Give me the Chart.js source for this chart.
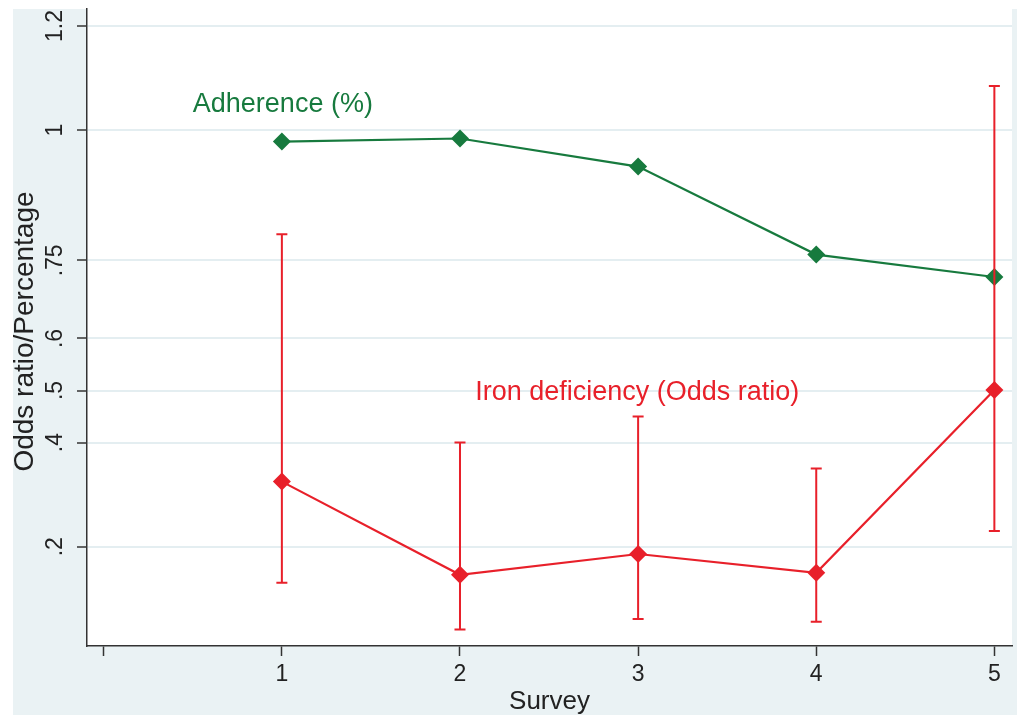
<!DOCTYPE html>
<html>
<head>
<meta charset="utf-8">
<script src="https://cdn.jsdelivr.net/npm/chart.js@4"></script>
<style>
  html, body { margin: 0; padding: 0; background: #fff; }
  #chart { display: block; }
</style>
</head>
<body>
<canvas id="chart" width="1017" height="717"></canvas>
<script>
// Data
const surveys = [1, 2, 3, 4, 5];
const adherence = [0.978, 0.984, 0.930, 0.761, 0.718];
const ironOR = [0.325, 0.146, 0.186, 0.150, 0.501];
const ironLower = [0.131, 0.041, 0.061, 0.056, 0.230];
const ironUpper = [0.800, 0.400, 0.450, 0.350, 1.085];
const yTicks = [0.2, 0.4, 0.5, 0.6, 0.75, 1, 1.2];
const yTickLabels = ['.2', '.4', '.5', '.6', '.75', '1', '1.2'];
const xTicks = [0, 1, 2, 3, 4, 5];
const xTickLabels = ['', '1', '2', '3', '4', '5'];
const seriesNames = ['Adherence (%)', 'Iron deficiency (Odds ratio)'];
const yTitle = 'Odds ratio/Percentage';

const FONT = '"Liberation Sans", Arial, Helvetica, sans-serif';
const GREEN = '#177a3e';
const RED = '#e8202a';
const INK = '#222';

// where the two series labels sit, in data units
const labelAt = [{ x: 0.5, y: 1.05 }, { x: 2.085, y: 0.497 }];

const stataLook = {
  id: 'stataLook',
  beforeDraw(chart) {
    const { ctx, chartArea: a } = chart;
    ctx.save();
    ctx.fillStyle = '#eaf2f4';
    ctx.fillRect(13, 9, 1004, 706);
    ctx.fillStyle = '#fff';
    ctx.fillRect(a.left, a.top, a.right - a.left, a.bottom - a.top);
    ctx.restore();
  },
  afterDatasetsDraw(chart) {
    // confidence intervals for the odds ratios
    const { ctx, scales: { x, y } } = chart;
    ctx.save();
    ctx.strokeStyle = RED;
    ctx.lineWidth = 2;
    surveys.forEach((s, i) => {
      const px = x.getPixelForValue(s);
      const lo = y.getPixelForValue(ironLower[i]);
      const hi = y.getPixelForValue(ironUpper[i]);
      ctx.beginPath();
      ctx.moveTo(px, lo); ctx.lineTo(px, hi);
      ctx.moveTo(px - 5.5, lo); ctx.lineTo(px + 5.5, lo);
      ctx.moveTo(px - 5.5, hi); ctx.lineTo(px + 5.5, hi);
      ctx.stroke();
    });
    ctx.restore();
  },
  afterDraw(chart) {
    const { ctx, chartArea: a, scales: { x, y } } = chart;
    ctx.save();
    // rotated y tick labels
    ctx.fillStyle = INK;
    ctx.font = `23px ${FONT}`;
    ctx.textAlign = 'center';
    ctx.textBaseline = 'alphabetic';
    yTicks.forEach((v, i) => {
      ctx.save();
      ctx.translate(62, y.getPixelForValue(v));
      ctx.rotate(-Math.PI / 2);
      ctx.fillText(yTickLabels[i], 0, 0);
      ctx.restore();
    });
    // y axis title
    ctx.save();
    ctx.font = `28px ${FONT}`;
    ctx.translate(33, (a.top + a.bottom) / 2 + 4);
    ctx.rotate(-Math.PI / 2);
    ctx.fillText(yTitle, 0, 0);
    ctx.restore();
    // series labels
    ctx.font = `27px ${FONT}`;
    ctx.textAlign = 'left';
    ctx.textBaseline = 'middle';
    [GREEN, RED].forEach((c, i) => {
      ctx.fillStyle = c;
      ctx.fillText(seriesNames[i], x.getPixelForValue(labelAt[i].x), y.getPixelForValue(labelAt[i].y));
    });
    ctx.restore();
  }
};

new Chart(document.getElementById('chart'), {
  type: 'line',
  data: {
    datasets: [
      {
        label: seriesNames[0],
        data: surveys.map((s, i) => ({ x: s, y: adherence[i] })),
        borderColor: GREEN, backgroundColor: GREEN,
        borderWidth: 2.2, tension: 0,
        pointStyle: 'rectRot', pointRadius: 9, pointBorderWidth: 0,
        pointBackgroundColor: GREEN
      },
      {
        label: seriesNames[1],
        data: surveys.map((s, i) => ({ x: s, y: ironOR[i] })),
        borderColor: RED, backgroundColor: RED,
        borderWidth: 2.2, tension: 0,
        pointStyle: 'rectRot', pointRadius: 9, pointBorderWidth: 0,
        pointBackgroundColor: RED
      }
    ]
  },
  options: {
    responsive: false,
    devicePixelRatio: 1,
    animation: false,
    layout: { autoPadding: false, padding: { top: 9, right: 5, left: 0, bottom: 0 } },
    plugins: { legend: { display: false }, tooltip: { enabled: false } },
    scales: {
      x: {
        type: 'linear', min: -0.094, max: 5.099,
        afterBuildTicks: s => { s.ticks = xTicks.map(v => ({ value: v })); },
        afterFit: s => { s.height = 71; },
        ticks: {
          autoSkip: false, maxRotation: 0, padding: 5,
          color: INK, font: { family: FONT, size: 23 },
          callback: v => xTickLabels[xTicks.indexOf(v)]
        },
        grid: { drawOnChartArea: false, tickLength: 10, tickColor: '#333', tickWidth: 1.5 },
        border: { color: '#333', width: 1.5 },
        title: { display: true, text: 'Survey', color: INK, font: { family: FONT, size: 26 }, padding: { top: 0, bottom: 0 } }
      },
      y: {
        type: 'linear', min: 0.0093, max: 1.2327,
        afterBuildTicks: s => { s.ticks = yTicks.map(v => ({ value: v })); },
        afterFit: s => { s.width = 87; },
        ticks: { display: false },
        grid: { color: '#e4eef1', lineWidth: 2, tickLength: 10, tickColor: '#333', tickWidth: 1.5 },
        border: { color: '#333', width: 1.5 }
      }
    }
  },
  plugins: [stataLook]
});
</script>
</body>
</html>
